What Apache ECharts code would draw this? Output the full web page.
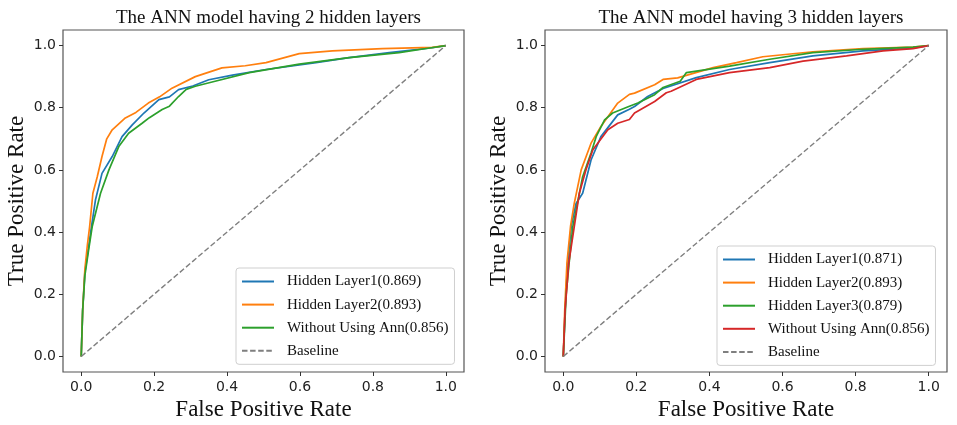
<!DOCTYPE html>
<html>
<head>
<meta charset="utf-8">
<script src="https://cdn.jsdelivr.net/npm/echarts@6/dist/echarts.min.js"></script>
<style>html,body{margin:0;padding:0;background:#fff;}#c{width:957px;height:425px;}</style>
</head>
<body>
<div id="c"></div>
<script>
// ---- Data ----
const TICKS = [0, 0.2, 0.4, 0.6, 0.8, 1.0];
const TITLES = ['The ANN model having 2 hidden layers', 'The ANN model having 3 hidden layers'];

// Left plot (2 hidden layers)
const L_HL1_FPR = [0, 0.004, 0.01, 0.02, 0.028, 0.039, 0.057, 0.085, 0.112, 0.14, 0.172, 0.213, 0.242, 0.267, 0.306, 0.35, 0.415, 0.507, 0.644, 0.735, 0.845, 0.963, 1];
const L_HL1_TPR = [0, 0.15, 0.27, 0.35, 0.417, 0.503, 0.589, 0.643, 0.707, 0.745, 0.783, 0.826, 0.835, 0.858, 0.87, 0.89, 0.905, 0.923, 0.945, 0.961, 0.977, 0.993, 1];
const L_HL2_FPR = [0, 0.004, 0.01, 0.017, 0.023, 0.032, 0.044, 0.057, 0.07, 0.085, 0.121, 0.15, 0.184, 0.215, 0.249, 0.313, 0.386, 0.45, 0.507, 0.598, 0.689, 0.826, 0.963, 1];
const L_HL2_TPR = [0, 0.15, 0.28, 0.36, 0.417, 0.525, 0.578, 0.643, 0.7, 0.729, 0.767, 0.785, 0.815, 0.835, 0.863, 0.9, 0.928, 0.935, 0.945, 0.974, 0.983, 0.99, 0.994, 1];
const L_NOANN_FPR = [0, 0.004, 0.01, 0.02, 0.03, 0.053, 0.076, 0.103, 0.13, 0.167, 0.187, 0.222, 0.242, 0.267, 0.288, 0.313, 0.37, 0.461, 0.598, 0.735, 0.872, 0.96, 1];
const L_NOANN_TPR = [0, 0.15, 0.26, 0.34, 0.417, 0.525, 0.6, 0.675, 0.718, 0.75, 0.768, 0.794, 0.805, 0.836, 0.859, 0.869, 0.886, 0.913, 0.94, 0.961, 0.977, 0.993, 1];

// Right plot (3 hidden layers)
const R_HL1_FPR = [0, 0.005, 0.012, 0.022, 0.035, 0.053, 0.076, 0.103, 0.149, 0.181, 0.195, 0.231, 0.273, 0.364, 0.455, 0.565, 0.683, 0.82, 0.957, 1];
const R_HL1_TPR = [0, 0.15, 0.3, 0.42, 0.492, 0.525, 0.632, 0.707, 0.777, 0.795, 0.804, 0.836, 0.862, 0.897, 0.923, 0.945, 0.967, 0.983, 0.992, 1];
const R_HL2_FPR = [0, 0.004, 0.01, 0.02, 0.03, 0.049, 0.076, 0.103, 0.149, 0.181, 0.195, 0.25, 0.273, 0.313, 0.41, 0.474, 0.546, 0.683, 0.82, 0.957, 1];
const R_HL2_TPR = [0, 0.15, 0.3, 0.42, 0.492, 0.6, 0.686, 0.74, 0.815, 0.843, 0.847, 0.874, 0.891, 0.896, 0.929, 0.945, 0.964, 0.98, 0.99, 0.995, 1];
const R_HL3_FPR = [0, 0.004, 0.008, 0.016, 0.026, 0.053, 0.076, 0.09, 0.113, 0.135, 0.181, 0.204, 0.25, 0.273, 0.32, 0.337, 0.455, 0.565, 0.683, 0.82, 0.957, 1];
const R_HL3_TPR = [0, 0.1, 0.2, 0.3, 0.417, 0.578, 0.654, 0.707, 0.761, 0.783, 0.805, 0.815, 0.842, 0.865, 0.885, 0.913, 0.934, 0.956, 0.977, 0.988, 0.995, 1];
const R_NOANN_FPR = [0, 0.005, 0.015, 0.03, 0.044, 0.062, 0.081, 0.122, 0.149, 0.181, 0.195, 0.25, 0.282, 0.295, 0.364, 0.455, 0.565, 0.656, 0.775, 0.875, 0.957, 1];
const R_NOANN_TPR = [0, 0.15, 0.3, 0.417, 0.525, 0.6, 0.665, 0.729, 0.75, 0.762, 0.783, 0.82, 0.848, 0.853, 0.891, 0.913, 0.929, 0.95, 0.967, 0.983, 0.99, 1];

const BASE_FPR = [0, 1];
const BASE_TPR = [0, 1];

const LEFT_NAMES = ['Hidden Layer1(0.869)', 'Hidden Layer2(0.893)', 'Without Using Ann(0.856)', 'Baseline'];
const RIGHT_NAMES = ['Hidden Layer1(0.871)', 'Hidden Layer2(0.893)', 'Hidden Layer3(0.879)', 'Without Using Ann(0.856)', 'Baseline'];

// ---- Build ----
const C_BLUE = '#1f77b4', C_ORANGE = '#ff7f0e', C_GREEN = '#2ca02c', C_RED = '#d62728', C_GREY = '#7f7f7f';
const zip = (xs, ys) => xs.map((x, i) => [x, ys[i]]);
const SERIF = 'Liberation Serif, Times New Roman, serif';

function mkSeries(prefix, name, xs, ys, color, idx, dashed) {
  return {
    type: 'line', name: prefix + '|' + name, xAxisIndex: idx, yAxisIndex: idx,
    data: zip(xs, ys), symbol: 'none', showSymbol: false, animation: false,
    lineStyle: { color: color, width: dashed ? 1.4 : 1.7, type: dashed ? [5.5, 2.6] : 'solid' },
    itemStyle: { color: color }
  };
}

const series = [
  mkSeries('L', LEFT_NAMES[0], L_HL1_FPR, L_HL1_TPR, C_BLUE, 0),
  mkSeries('L', LEFT_NAMES[1], L_HL2_FPR, L_HL2_TPR, C_ORANGE, 0),
  mkSeries('L', LEFT_NAMES[2], L_NOANN_FPR, L_NOANN_TPR, C_GREEN, 0),
  mkSeries('L', LEFT_NAMES[3], BASE_FPR, BASE_TPR, C_GREY, 0, true),
  mkSeries('R', RIGHT_NAMES[0], R_HL1_FPR, R_HL1_TPR, C_BLUE, 1),
  mkSeries('R', RIGHT_NAMES[1], R_HL2_FPR, R_HL2_TPR, C_ORANGE, 1),
  mkSeries('R', RIGHT_NAMES[2], R_HL3_FPR, R_HL3_TPR, C_GREEN, 1),
  mkSeries('R', RIGHT_NAMES[3], R_NOANN_FPR, R_NOANN_TPR, C_RED, 1),
  mkSeries('R', RIGHT_NAMES[4], BASE_FPR, BASE_TPR, C_GREY, 1, true)
];

const GRIDS = [
  { left: 63, top: 30, width: 401, height: 342 },
  { left: 545, top: 30, width: 402, height: 342 }
];

function axisCommon(i, name, gap, margin) {
  return {
    type: 'value', gridIndex: i, min: -0.05, max: 1.05,
    name: name, nameLocation: 'middle', nameGap: gap,
    nameTextStyle: { fontFamily: SERIF, fontSize: 23, color: '#111' },
    axisLine: { show: false, onZero: false },
    axisTick: { show: true, customValues: TICKS, length: 4, lineStyle: { color: '#333', width: 1 } },
    axisLabel: { customValues: TICKS, formatter: v => v.toFixed(1), margin: margin, fontFamily: 'DejaVu Sans', fontSize: 14, color: '#222' },
    splitLine: { show: false }
  };
}
function xAxis(i) { return Object.assign(axisCommon(i, 'False Positive Rate', 25, 8), { position: 'bottom' }); }
function yAxis(i) { return Object.assign(axisCommon(i, 'True Positive Rate', 35, 7), { position: 'left' }); }

function legend(prefix, names, left, top) {
  return {
    show: true, orient: 'vertical', left: left, top: top,
    data: names.map(n => prefix + '|' + n),
    formatter: n => n.split('|')[1],
    selectedMode: false,
    itemWidth: 32, itemHeight: 14, itemGap: 8.1,
    padding: [6, 6, 6, 5],
    itemStyle: { opacity: 0 },
    backgroundColor: '#fff', borderColor: '#cfcfcf', borderWidth: 1, borderRadius: 3,
    textStyle: { fontFamily: SERIF, fontSize: 15, color: '#111', padding: [0, 0, 0, 8] }
  };
}

const TITLE_STYLE = { fontFamily: SERIF, fontSize: 19, fontWeight: 'normal', color: '#111' };

const option = {
  backgroundColor: '#fff',
  animation: false,
  title: [
    { text: TITLES[0], left: 263.5, top: 4, textAlign: 'center', textStyle: TITLE_STYLE },
    { text: TITLES[1], left: 746, top: 4, textAlign: 'center', textStyle: TITLE_STYLE }
  ],
  legend: [legend('L', LEFT_NAMES, 236, 268), legend('R', RIGHT_NAMES, 717, 246)],
  grid: GRIDS.map(g => Object.assign({ show: true, outerBoundsMode: 'none', containLabel: false, borderColor: '#555', borderWidth: 1.2, backgroundColor: 'transparent' }, g)),
  xAxis: [xAxis(0), xAxis(1)],
  yAxis: [yAxis(0), yAxis(1)],
  series: series
};

const chart = echarts.init(document.getElementById('c'), null, { renderer: 'canvas' });
chart.setOption(option);
</script>
</body>
</html>
